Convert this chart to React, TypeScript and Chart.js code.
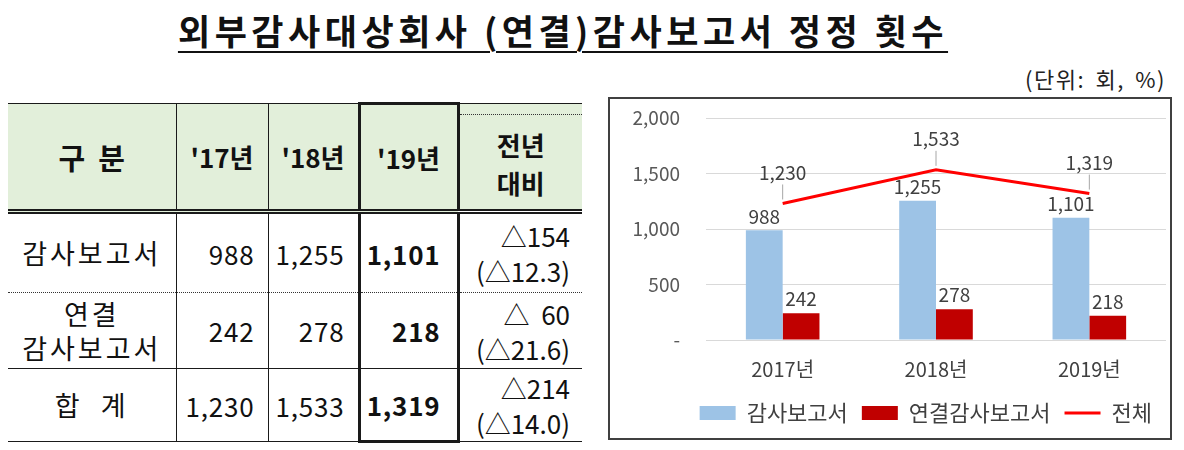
import React, { useEffect, useRef } from 'react';
import { Chart, registerables } from 'chart.js';

Chart.register(...registerables);

const FONT = '"Noto Sans CJK KR", "Noto Sans", sans-serif';

// chart data
const years = ['2017년', '2018년', '2019년'];
const auditReports = [988, 1255, 1101];
const consolidatedReports = [242, 278, 218];
const totalReports = [1230, 1533, 1319];
const yTicks = [0, 500, 1000, 1500, 2000];

// table data
const tableHeaders = ["'17년", "'18년", "'19년"];
const rowLabels = ['감사보고서', '연결\n감사보고서', '합  계'];
const yoyChange = ['△154', '△  60', '△214'];
const yoyPct = ['(△12.3)', '(△21.6)', '(△14.0)'];

const fmt = (v: number) => v.toLocaleString('en-US');

const valueLabels = {
  id: 'valueLabels',
  afterDatasetsDraw(chart: any) {
    const { ctx } = chart;
    ctx.save();
    ctx.font = `19px ${FONT}`;
    ctx.fillStyle = '#404040';
    ctx.textAlign = 'center';
    ctx.textBaseline = 'middle';
    chart.data.datasets.forEach((ds: any, di: number) => {
      const meta = chart.getDatasetMeta(di);
      meta.data.forEach((el: any, i: number) => {
        const text = fmt(ds.data[i]);
        if (meta.type === 'line') {
          ctx.strokeStyle = '#a6a6a6';
          ctx.lineWidth = 1;
          ctx.beginPath();
          ctx.moveTo(el.x, el.y - 4);
          ctx.lineTo(el.x, el.y - 19);
          ctx.stroke();
          ctx.fillText(text, el.x, el.y - 31);
        } else {
          ctx.fillText(text, el.x, el.y - 14);
        }
      });
    });
    ctx.restore();
  },
};

const ReportChart: React.FC = () => {
  const chartRef = useRef<HTMLCanvasElement>(null);
  const chartInstance = useRef<Chart | null>(null);

  useEffect(() => {
    if (!chartRef.current) return;
    const ctx = chartRef.current.getContext('2d');
    if (!ctx) return;

    chartInstance.current = new Chart(ctx, {
      type: 'bar',
      data: {
        labels: years,
        datasets: [
          {
            label: '감사보고서',
            data: auditReports,
            backgroundColor: '#9dc3e6',
            categoryPercentage: 0.48,
            barPercentage: 1,
          },
          {
            label: '연결감사보고서',
            data: consolidatedReports,
            backgroundColor: '#c00000',
            categoryPercentage: 0.48,
            barPercentage: 1,
          },
          {
            type: 'line',
            label: '전체',
            data: totalReports,
            borderColor: '#ff0000',
            backgroundColor: '#ff0000',
            borderWidth: 3,
            pointRadius: 0,
            order: -1,
          } as any,
        ],
      },
      options: {
        responsive: true,
        maintainAspectRatio: false,
        animation: false,
        layout: { padding: { top: 19, right: 4, left: 0, bottom: 4 } },
        scales: {
          y: {
            min: 0,
            max: 2000,
            afterBuildTicks: (scale: any) => {
              scale.ticks = yTicks.map((v) => ({ value: v }));
            },
            afterFit: (scale: any) => {
              scale.width = 96;
            },
            ticks: {
              color: '#595959',
              font: { family: FONT, size: 19 },
              padding: 0,
              callback: (v: any) => (v === 0 ? '-' : fmt(Number(v))),
            },
            grid: {
              color: '#d9d9d9',
              drawTicks: true,
              tickLength: 26,
              tickColor: 'rgba(0,0,0,0)',
            },
            border: { display: false },
          },
          x: {
            afterFit: (scale: any) => {
              scale.height = 48;
            },
            ticks: {
              color: '#404040',
              font: { family: FONT, size: 20 },
              padding: 17,
            },
            grid: { display: false, drawTicks: false },
            border: { display: false },
          },
        },
        plugins: {
          legend: {
            position: 'bottom',
            align: 'end',
            labels: {
              color: '#404040',
              font: { family: FONT, size: 22 },
              usePointStyle: true,
              pointStyleWidth: 36,
              boxHeight: 14,
              padding: 14,
              generateLabels: (chart: any) => {
                const items = Chart.defaults.plugins.legend.labels.generateLabels(chart);
                items.sort((a: any, b: any) => a.datasetIndex - b.datasetIndex);
                items.forEach((it: any) => {
                  if (it.datasetIndex === 2) {
                    it.pointStyle = 'line';
                    it.lineWidth = 3;
                    it.strokeStyle = '#ff0000';
                  } else {
                    it.pointStyle = 'rect';
                    it.lineWidth = 0;
                  }
                });
                return items;
              },
            },
          },
          tooltip: { enabled: false },
        },
      },
      plugins: [valueLabels],
    });

    return () => {
      if (chartInstance.current) {
        chartInstance.current.destroy();
        chartInstance.current = null;
      }
    };
  }, []);

  return (
    <div style={{ position: 'relative', width: 560, height: 339 }}>
      <canvas ref={chartRef}></canvas>
    </div>
  );
};

const DARK = '#1a1a1a';

const ReportTable: React.FC = () => {
  const colWidths = [168, 92, 91, 99, 124];
  const rowHeights = [108, 81, 76, 73];
  const thin = `1.5px solid ${DARK}`;
  const thick = `3px solid ${DARK}`;
  const cell: React.CSSProperties = {
    padding: 0,
    fontSize: 26,
    color: '#111',
    whiteSpace: 'pre',
  };
  const rowBottoms = ['1.5px dotted #333', thin, thin];
  const rows = [auditReports, consolidatedReports, totalReports];

  return (
    <table
      style={{
        position: 'absolute',
        left: 8,
        top: 102,
        borderCollapse: 'collapse',
        tableLayout: 'fixed',
        width: colWidths.reduce((a, b) => a + b, 0),
        fontFamily: FONT,
      }}
    >
      <colgroup>
        {colWidths.map((w, i) => (
          <col key={i} style={{ width: w }} />
        ))}
      </colgroup>
      <tbody>
        <tr style={{ height: rowHeights[0], background: '#e2efda' }}>
          <td
            style={{
              ...cell,
              fontWeight: 700,
              fontSize: 29,
              textAlign: 'center',
              borderTop: thin,
              borderRight: thin,
              borderBottom: `5px double ${DARK}`,
            }}
          >
            {'구  분'}
          </td>
          {tableHeaders.map((h, i) => (
            <td
              key={h}
              style={{
                ...cell,
                fontWeight: 700,
                textAlign: 'center',
                borderTop: i === 2 ? thick : thin,
                borderRight: i >= 1 ? thick : thin,
                borderLeft: i === 2 ? thick : thin,
                borderBottom: `5px double ${DARK}`,
              }}
            >
              {h}
            </td>
          ))}
          <td
            style={{
              ...cell,
              position: 'relative',
              fontWeight: 700,
              textAlign: 'center',
              lineHeight: '38px',
              paddingTop: 14,
              borderTop: thin,
              borderBottom: `5px double ${DARK}`,
            }}
          >
            <div
              style={{
                position: 'absolute',
                left: 0,
                right: 0,
                top: 10,
                borderTop: '1.5px dotted #333',
              }}
            />
            {'전년\n대비'}
          </td>
        </tr>
        {rows.map((vals, r) => (
          <tr key={r} style={{ height: rowHeights[r + 1] }}>
            <td
              style={{
                ...cell,
                textAlign: 'center',
                letterSpacing: 3,
                fontSize: 27,
                lineHeight: '34px',
                borderRight: thin,
                borderBottom: rowBottoms[r],
              }}
            >
              {rowLabels[r]}
            </td>
            {vals.map((v, c) => (
              <td
                key={c}
                style={{
                  ...cell,
                  textAlign: 'right',
                  letterSpacing: 0.8,
                  paddingRight: c === 2 ? 16 : 13,
                  fontWeight: c === 2 ? 700 : 400,
                  borderRight: c >= 1 ? thick : thin,
                  borderLeft: c === 2 ? thick : thin,
                  borderBottom: c === 2 && r === 2 ? thick : rowBottoms[r],
                }}
              >
                {fmt(v)}
              </td>
            ))}
            <td
              style={{
                ...cell,
                textAlign: 'right',
                paddingRight: 12,
                lineHeight: '35px',
                borderBottom: rowBottoms[r],
              }}
            >
              {`${yoyChange[r]}\n${yoyPct[r]}`}
            </td>
          </tr>
        ))}
      </tbody>
    </table>
  );
};

const App: React.FC = () => {
  return (
    <div
      style={{
        position: 'absolute',
        left: 0,
        top: 0,
        width: 1184,
        height: 450,
        background: '#fff',
        fontFamily: FONT,
        overflow: 'hidden',
      }}
    >
      <div
        style={{
          position: 'absolute',
          left: 0,
          width: 1126,
          top: 8,
          textAlign: 'center',
        }}
      >
        <span
          style={{
            fontSize: 35,
            fontWeight: 700,
            letterSpacing: 4.5,
            color: '#111',
            textDecoration: 'underline',
            textDecorationThickness: 2,
            textUnderlineOffset: 6,
            lineHeight: '44px',
          }}
        >
          외부감사대상회사 (연결)감사보고서 정정 횟수
        </span>
      </div>
      <div
        style={{
          position: 'absolute',
          right: 18,
          top: 62,
          fontSize: 22,
          letterSpacing: 1.5,
          wordSpacing: 4,
          color: '#222',
        }}
      >
        (단위: 회, %)
      </div>
      <ReportTable />
      <div
        style={{
          position: 'absolute',
          left: 608,
          top: 97,
          width: 560,
          height: 339,
          border: '2px solid #404040',
        }}
      >
        <ReportChart />
      </div>
    </div>
  );
};

export default App;
